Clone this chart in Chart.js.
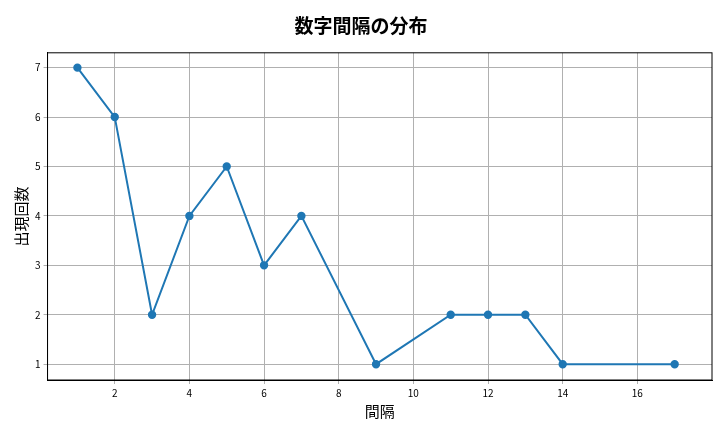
<!DOCTYPE html>
<html><head><meta charset="utf-8">
<script src="https://cdn.jsdelivr.net/npm/chart.js@4"></script>
<style>body{margin:0;background:#fff}#w{width:720px;height:432px}</style>
</head><body><div id="w"><canvas id="c"></canvas></div>
<script>
const intervals = [1,2,3,4,5,6,7,9,11,12,13,14,17];
const counts = [7,6,2,4,5,3,4,1,2,2,2,1,1];
const xTicks = [2,4,6,8,10,12,14,16];
const yTicks = [1,2,3,4,5,6,7];
const F = "'Noto Sans CJK JP', 'DejaVu Sans', sans-serif";
const frame = { id: 'frame', afterDraw(ch) { const a = ch.chartArea, c = ch.ctx;
  c.save(); c.strokeStyle = '#000'; c.lineWidth = 1; c.strokeRect(a.left, a.top, a.right - a.left, a.bottom - a.top); c.restore(); } };
new Chart(document.getElementById('c'), {
  type: 'line',
  data: { datasets: [{
    data: intervals.map((x,i)=>({x, y: counts[i]})),
    borderColor: '#1f77b4', backgroundColor: '#1f77b4',
    borderWidth: 2, pointRadius: 3.2, pointHoverRadius: 3.2, tension: 0
  }]},
  options: {
    responsive: true, maintainAspectRatio: false, animation: false,
    layout: { padding: { left: 10, right: 8, top: 8, bottom: 12 } },
    plugins: {
      legend: { display: false },
      title: { display: true, text: '数字間隔の分布', color: '#000',
        font: { family: F, size: 19, weight: 'bold' }, padding: { top: 6, bottom: 16 } }
    },
    scales: {
      x: { type: 'linear', min: 0.2, max: 18,
        afterBuildTicks: a => { a.ticks = xTicks.map(v=>({value:v})); },
        grid: { color: '#b0b0b0', tickLength: 4 },
        border: { color: '#000' },
        ticks: { color: '#000', font: { family: F, size: 10 }, maxRotation: 0 },
        title: { display: true, text: '間隔', color: '#000', font: { family: F, size: 15 }, padding: 0 } },
      y: { min: 0.68, max: 7.3,
        afterBuildTicks: a => { a.ticks = yTicks.map(v=>({value:v})); },
        grid: { color: '#b0b0b0', tickLength: 4 },
        border: { color: '#000' },
        ticks: { color: '#000', font: { family: F, size: 10 } },
        title: { display: true, text: '出現回数', color: '#000', font: { family: F, size: 15 }, padding: 2 } }
    }
  },
  plugins: [frame]
});
</script></body></html>
